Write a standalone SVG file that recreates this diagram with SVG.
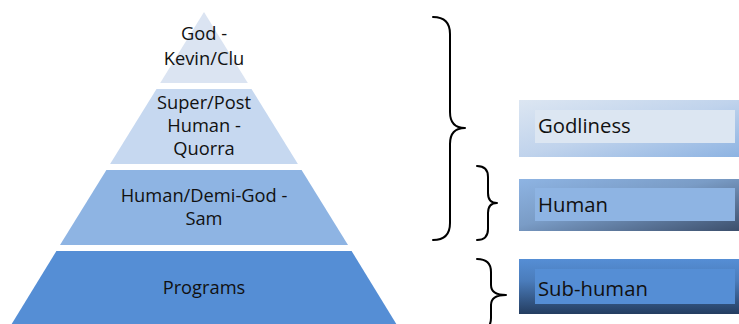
<svg xmlns="http://www.w3.org/2000/svg" width="739" height="324" viewBox="0 0 739 324">
<defs>
<linearGradient id="gGod" x1="0" y1="0" x2="1" y2="1">
<stop offset="0" stop-color="#dce6f2"/>
<stop offset="0.5" stop-color="#c0d3ec"/>
<stop offset="1" stop-color="#8db3e2"/>
</linearGradient>
<linearGradient id="gHum" x1="0" y1="0" x2="1" y2="1">
<stop offset="0" stop-color="#8eb4e3"/>
<stop offset="0.45" stop-color="#7a9cc6"/>
<stop offset="1" stop-color="#3c4f6c"/>
</linearGradient>
<linearGradient id="gSub" x1="0" y1="0" x2="0" y2="1">
<stop offset="0" stop-color="#558ed5"/>
<stop offset="0.4" stop-color="#4a7cbb"/>
<stop offset="1" stop-color="#243d60"/>
</linearGradient>
<style>
.t{font-family:"Open Sans","Liberation Sans",sans-serif;font-size:18.3px;fill:#111;text-anchor:middle}
.b{font-family:"Open Sans","Liberation Sans",sans-serif;font-size:20.3px;fill:#111}
.br{fill:none;stroke:#000;stroke-width:2;stroke-linecap:round;stroke-linejoin:round}
</style>
</defs>
<rect width="739" height="324" fill="#fff"/>
<g id="level-god">
<polygon points="204,12 247.8,83 160.2,83" fill="#dbe4f2"/>
<text class="t" x="204" y="40">God -</text>
<text class="t" x="204" y="65">Kevin/Clu</text>
</g>
<g id="level-super">
<polygon points="156.5,89 251.5,89 297.9,164 110.1,164" fill="#c6d8f0"/>
<text class="t" x="204" y="109">Super/Post</text>
<text class="t" x="204" y="132">Human -</text>
<text class="t" x="204" y="155">Quorra</text>
</g>
<g id="level-human">
<polygon points="106.4,170 301.6,170 348,245 60,245" fill="#8eb4e3"/>
<text class="t" x="204" y="202">Human/Demi-God -</text>
<text class="t" x="204" y="225">Sam</text>
</g>
<g id="level-programs">
<polygon points="56.4,251 351.6,251 400,330 8,330" fill="#558ed5"/>
<text class="t" x="204" y="294">Programs</text>
</g>
<g id="box-godliness">
<rect x="519" y="100" width="220" height="57" fill="url(#gGod)"/>
<rect x="535" y="110" width="200" height="33" fill="#dce6f2"/>
<text class="b" x="538" y="133">Godliness</text>
</g>
<g id="box-human">
<rect x="519" y="179" width="220" height="52" fill="url(#gHum)"/>
<rect x="535" y="188" width="200" height="33" fill="#8eb4e3"/>
<text class="b" x="538" y="212">Human</text>
</g>
<g id="box-subhuman">
<rect x="519" y="259" width="220" height="55" fill="url(#gSub)"/>
<rect x="535" y="269" width="200" height="35" fill="#558ed5"/>
<text class="b" x="538" y="296">Sub-human</text>
</g>
<g id="connectors">
<path class="br" d="M433,17 Q450,17 450,34 L450,112 Q450,128 465,128 Q450,128 450,144 L450,223 Q450,240 433,240"/>
<path class="br" d="M477,166 Q488,166 488,177 L488,193 Q488,203 497,203 Q488,203 488,213 L488,229 Q488,240 477,240"/>
<path class="br" d="M477,259 Q491,259 491,272 L491,285 Q491,295 506,295 Q491,295 491,305 L491,318 Q491,331 477,331"/>
</g>
</svg>
